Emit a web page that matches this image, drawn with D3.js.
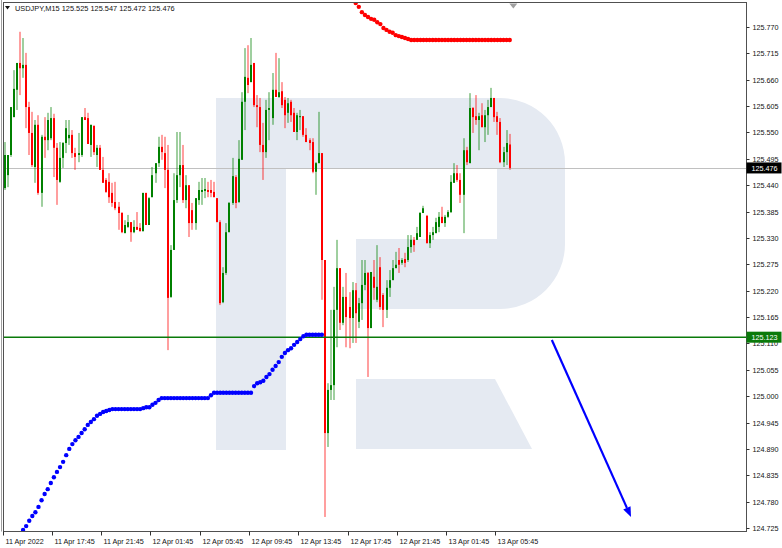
<!DOCTYPE html>
<html><head><meta charset="utf-8">
<script src="https://cdn.jsdelivr.net/npm/d3@7/dist/d3.min.js"></script>
<style>body{margin:0;background:#fff}svg{display:block}text{font-family:"Liberation Sans",Arial,sans-serif}</style>
</head><body>
<svg id="chart" width="782" height="548"></svg>
<script>
// ---- data (USDJPY M15, first bar = 11 Apr 2022 13:45) ----
const opens=[125.434,125.461,125.503,125.582,125.639,125.695,125.684,125.691,125.603,125.549,125.478,125.566,125.424,125.541,125.534,125.538,125.580,125.518,125.447,125.497,125.528,125.538,125.545,125.507,125.503,125.503,125.582,125.580,125.524,125.564,125.503,125.518,125.472,125.451,125.447,125.424,125.405,125.395,125.382,125.340,125.353,125.363,125.342,125.353,125.351,125.344,125.424,125.357,125.415,125.465,125.486,125.520,125.507,125.472,125.207,125.305,125.409,125.461,125.482,125.409,125.440,125.388,125.361,125.409,125.426,125.428,125.430,125.430,125.426,125.413,125.363,125.196,125.257,125.342,125.403,125.457,125.405,125.493,125.614,125.664,125.655,125.695,125.607,125.603,125.524,125.509,125.597,125.580,125.639,125.624,125.636,125.618,125.591,125.614,125.591,125.551,125.582,125.584,125.545,125.534,125.530,125.468,125.486,125.507,125.284,124.923,125.013,125.023,125.180,125.267,125.153,125.207,125.186,125.163,125.221,125.155,125.194,125.232,125.257,125.142,125.249,125.201,125.269,125.211,125.180,125.226,125.242,125.267,125.284,125.278,125.286,125.284,125.311,125.326,125.326,125.332,125.382,125.376,125.319,125.336,125.340,125.353,125.374,125.361,125.374,125.384,125.445,125.465,125.451,125.420,125.513,125.486,125.601,125.584,125.576,125.586,125.561,125.586,125.603,125.622,125.584,125.572,125.488,125.509,125.525];
const highs=[125.530,125.503,125.603,125.680,125.695,125.760,125.747,125.716,125.614,125.593,125.576,125.586,125.545,125.582,125.591,125.603,125.589,125.528,125.530,125.530,125.576,125.576,125.555,125.518,125.549,125.582,125.601,125.591,125.566,125.564,125.524,125.524,125.499,125.455,125.465,125.445,125.447,125.405,125.384,125.367,125.378,125.363,125.367,125.384,125.361,125.424,125.424,125.415,125.478,125.486,125.541,125.545,125.541,125.524,125.315,125.465,125.551,125.551,125.524,125.461,125.440,125.403,125.413,125.447,125.455,125.455,125.447,125.451,125.447,125.413,125.367,125.269,125.361,125.405,125.497,125.461,125.534,125.634,125.726,125.732,125.747,125.695,125.628,125.622,125.570,125.618,125.634,125.674,125.716,125.705,125.655,125.624,125.622,125.618,125.601,125.591,125.597,125.584,125.559,125.538,125.538,125.488,125.593,125.507,125.284,125.027,125.180,125.228,125.326,125.267,125.228,125.257,125.217,125.238,125.236,125.205,125.284,125.284,125.259,125.259,125.284,125.315,125.290,125.215,125.242,125.263,125.284,125.301,125.309,125.288,125.299,125.336,125.336,125.332,125.353,125.384,125.397,125.378,125.342,125.353,125.372,125.384,125.395,125.378,125.388,125.461,125.486,125.482,125.465,125.538,125.520,125.632,125.603,125.628,125.591,125.611,125.597,125.618,125.643,125.622,125.593,125.580,125.520,125.555,125.547];
const lows=[125.430,125.436,125.499,125.582,125.597,125.628,125.664,125.559,125.503,125.478,125.445,125.420,125.395,125.497,125.513,125.534,125.457,125.399,125.445,125.476,125.507,125.524,125.497,125.472,125.488,125.499,125.576,125.526,125.499,125.503,125.478,125.472,125.445,125.424,125.403,125.395,125.388,125.347,125.340,125.340,125.351,125.322,125.340,125.347,125.344,125.344,125.357,125.357,125.415,125.445,125.478,125.493,125.434,125.096,125.205,125.305,125.403,125.436,125.403,125.392,125.332,125.347,125.347,125.399,125.399,125.413,125.415,125.415,125.415,125.363,125.190,125.194,125.253,125.342,125.399,125.392,125.403,125.493,125.555,125.632,125.655,125.603,125.561,125.509,125.451,125.497,125.534,125.566,125.624,125.622,125.601,125.559,125.570,125.572,125.551,125.534,125.555,125.541,125.530,125.513,125.465,125.420,125.486,125.201,124.748,124.894,124.992,124.992,125.102,125.138,125.148,125.102,125.100,125.111,125.111,125.142,125.159,125.221,125.040,125.142,125.201,125.196,125.180,125.144,125.163,125.207,125.242,125.267,125.257,125.274,125.269,125.280,125.299,125.301,125.326,125.332,125.382,125.319,125.309,125.326,125.340,125.342,125.361,125.353,125.372,125.382,125.445,125.447,125.403,125.340,125.482,125.486,125.549,125.566,125.513,125.561,125.530,125.545,125.603,125.572,125.545,125.486,125.478,125.482,125.472];
const closes=[125.503,125.503,125.603,125.641,125.695,125.684,125.691,125.603,125.549,125.482,125.566,125.424,125.541,125.534,125.576,125.580,125.518,125.451,125.497,125.528,125.559,125.545,125.507,125.499,125.507,125.582,125.576,125.526,125.566,125.509,125.518,125.472,125.445,125.426,125.415,125.403,125.392,125.382,125.342,125.357,125.363,125.342,125.353,125.347,125.344,125.424,125.357,125.413,125.461,125.486,125.520,125.509,125.472,125.205,125.305,125.409,125.461,125.482,125.409,125.440,125.361,125.361,125.413,125.430,125.430,125.432,125.426,125.424,125.415,125.363,125.194,125.257,125.342,125.403,125.459,125.403,125.495,125.614,125.666,125.649,125.691,125.607,125.603,125.524,125.509,125.597,125.601,125.639,125.624,125.634,125.607,125.586,125.611,125.586,125.551,125.586,125.584,125.545,125.530,125.528,125.468,125.486,125.507,125.284,124.923,125.013,125.023,125.180,125.267,125.153,125.207,125.165,125.163,125.221,125.173,125.194,125.232,125.257,125.142,125.259,125.226,125.228,125.186,125.180,125.226,125.242,125.267,125.274,125.274,125.284,125.278,125.311,125.326,125.315,125.340,125.382,125.392,125.319,125.336,125.342,125.363,125.374,125.361,125.374,125.384,125.447,125.465,125.451,125.420,125.513,125.488,125.601,125.582,125.576,125.584,125.561,125.586,125.603,125.622,125.582,125.572,125.488,125.509,125.528,125.476];
const xTickBars=[0,16,32,48,64,80,96,112,128,144,160];
const xTickLabels=["11 Apr 2022","11 Apr 17:45","11 Apr 21:45","12 Apr 01:45","12 Apr 05:45","12 Apr 09:45","12 Apr 13:45","12 Apr 17:45","12 Apr 21:45","13 Apr 01:45","13 Apr 05:45"];
const yTickLabels=["125.770","125.715","125.660","125.605","125.550","125.495","125.440","125.385","125.330","125.275","125.220","125.165","125.110","125.055","125.000","124.945","124.890","124.835","124.780","124.725"];
const blueStart=6;
const blueDots=[124.721,124.729,124.740,124.750,124.758,124.769,124.783,124.796,124.806,124.819,124.831,124.842,124.852,124.863,124.877,124.890,124.900,124.908,124.915,124.923,124.931,124.940,124.946,124.952,124.959,124.963,124.967,124.969,124.971,124.973,124.973,124.973,124.973,124.973,124.973,124.973,124.973,124.973,124.973,124.975,124.977,124.977,124.982,124.986,124.992,124.996,124.996,124.996,124.996,124.996,124.996,124.996,124.996,124.996,124.996,124.996,124.996,124.996,124.996,124.996,124.996,125.002,125.007,125.007,125.007,125.007,125.007,125.007,125.007,125.007,125.007,125.007,125.007,125.007,125.007,125.021,125.027,125.029,125.032,125.040,125.046,125.055,125.063,125.071,125.082,125.090,125.096,125.100,125.107,125.113,125.119,125.125,125.128,125.128,125.128,125.128,125.128,125.128];
const redStart=114;
const redDots=[125.820,125.812,125.801,125.795,125.791,125.787,125.785,125.780,125.776,125.768,125.764,125.760,125.758,125.753,125.751,125.749,125.747,125.745,125.743,125.743,125.743,125.743,125.743,125.743,125.743,125.743,125.743,125.743,125.743,125.743,125.743,125.743,125.743,125.743,125.743,125.743,125.743,125.743,125.743,125.743,125.743,125.743,125.743,125.743,125.743,125.743,125.743,125.743,125.743,125.743,125.743];
const levelPrice=125.123;
const lastPrice=125.476;
const arrowFrom=[178,125.117];
const arrowTo=[203.7,124.748];
const title="USDJPY,M15  125.525 125.547 125.472 125.476";

// ---- layout ----
const L=3.5,R=746.5,T=2.5,B=531.5;
const svg=d3.select("#chart");
const x=d3.scaleLinear().domain([0,240]).range([3.6,3.6+240*3.08]);
const y=d3.scaleLinear().domain([124.725,125.770]).range([528,27]);

svg.append("defs").append("clipPath").attr("id","plot").append("rect")
  .attr("x",L).attr("y",T).attr("width",R-L).attr("height",B-T);

// watermark logo (decorative background)
const wm=svg.append("g").attr("clip-path","url(#plot)").attr("fill","#e5eaf2");
wm.append("path").attr("d","M216,98 H500 A65,65 0 0 1 565,163 V244 A65,65 0 0 1 500,309 H356 V239 H497 V168 H286 V450 H216 Z");
wm.append("path").attr("d","M356,379 H495 L532,449 H356 Z");

const g=svg.append("g").attr("clip-path","url(#plot)");

// current price line and level line
g.append("line").attr("x1",L).attr("x2",R).attr("y1",Math.round(y(lastPrice))+0.5).attr("y2",Math.round(y(lastPrice))+0.5)
  .attr("stroke","#c0c0c0").attr("stroke-width",1);

// candles
const idx=d3.range(opens.length);
const cg=g.append("g");
idx.forEach(i=>{
  const up=closes[i]>=opens[i];
  const col=up?"#008000":"#ff0000";
  const xc=Math.round(x(i));
  cg.append("line").attr("x1",xc+1).attr("x2",xc+1).attr("y1",y(highs[i])).attr("y2",y(lows[i]))
    .attr("stroke",col).attr("stroke-width",1).attr("opacity",0.75);
  const top=y(Math.max(opens[i],closes[i])), bot=y(Math.min(opens[i],closes[i]));
  cg.append("rect").attr("x",xc).attr("width",2).attr("y",top).attr("height",Math.max(1,bot-top)).attr("fill",col);
});

g.append("line").attr("x1",L).attr("x2",R).attr("y1",y(levelPrice)).attr("y2",y(levelPrice))
  .attr("stroke","#0a7a0a").attr("stroke-width",1.6);

// blue dots
g.append("g").selectAll("circle").data(blueDots).join("circle")
  .attr("cx",(d,k)=>x(blueStart+k)+1).attr("cy",d=>y(d)).attr("r",2.2).attr("fill","#0000ff");
// red dots
g.append("g").selectAll("circle").data(redDots).join("circle")
  .attr("cx",(d,k)=>x(redStart+k)+1).attr("cy",d=>y(d)).attr("r",2.2).attr("fill","#ff0000");

// arrow
const ax1=x(arrowFrom[0]),ay1=y(arrowFrom[1]),ax2=x(arrowTo[0]),ay2=y(arrowTo[1]);
const ang=Math.atan2(ay2-ay1,ax2-ax1), hl=10, hw=4;
const bx=ax2-hl*Math.cos(ang), by=ay2-hl*Math.sin(ang);
g.append("line").attr("x1",ax1).attr("y1",ay1).attr("x2",bx).attr("y2",by).attr("stroke","#0000ff").attr("stroke-width",2.2);
g.append("path").attr("fill","#0000ff").attr("d",
  `M${ax2},${ay2} L${bx+hw*Math.sin(ang)},${by-hw*Math.cos(ang)} L${bx-hw*Math.sin(ang)},${by+hw*Math.cos(ang)} Z`);

// shift marker
const sx=x(165.5);
svg.append("path").attr("fill","#a0a0a0").attr("d",`M${sx-4},${T+1} H${sx+4} L${sx},${T+6} Z`);

// frame
svg.append("rect").attr("x",L).attr("y",T).attr("width",R-L).attr("height",B-T)
  .attr("fill","none").attr("stroke","#505050").attr("stroke-width",1);
svg.append("line").attr("x1",1.5).attr("x2",1.5).attr("y1",0).attr("y2",B).attr("stroke","#a0a0a0");

// y axis
const yAxis=svg.append("g");
yTickLabels.forEach(t=>{
  const yy=Math.round(y(+t))+0.5;
  yAxis.append("line").attr("x1",R).attr("x2",R+3).attr("y1",yy).attr("y2",yy).attr("stroke","#303030");
  yAxis.append("text").attr("x",R+6).attr("y",yy+2.5).attr("font-size",7.2).attr("fill","#111").text(t);
});
// price boxes
function priceBox(p,bg){
  const yy=y(p);
  svg.append("rect").attr("x",R).attr("y",yy-5.5).attr("width",35).attr("height",11).attr("fill",bg);
  svg.append("text").attr("x",R+5).attr("y",yy+2.6).attr("font-size",7.2).attr("fill","#fff").text(p.toFixed(3));
}
priceBox(lastPrice,"#000");
priceBox(levelPrice,"#0a7a0a");

// x axis
const xAxis=svg.append("g");
xTickBars.forEach((b,k)=>{
  const xx=Math.round(x(b))-0.5;
  xAxis.append("line").attr("x1",xx).attr("x2",xx).attr("y1",B).attr("y2",B+4).attr("stroke","#303030");
  xAxis.append("text").attr("x",xx+2).attr("y",B+12).attr("font-size",7.2).attr("fill","#111").text(xTickLabels[k]);
});

// title
svg.append("path").attr("fill","#111").attr("d","M5,6 H10 L7.5,9.5 Z");
svg.append("text").attr("x",15).attr("y",10.5).attr("font-size",7.4).attr("fill","#111").text(title);
</script>
</body></html>
